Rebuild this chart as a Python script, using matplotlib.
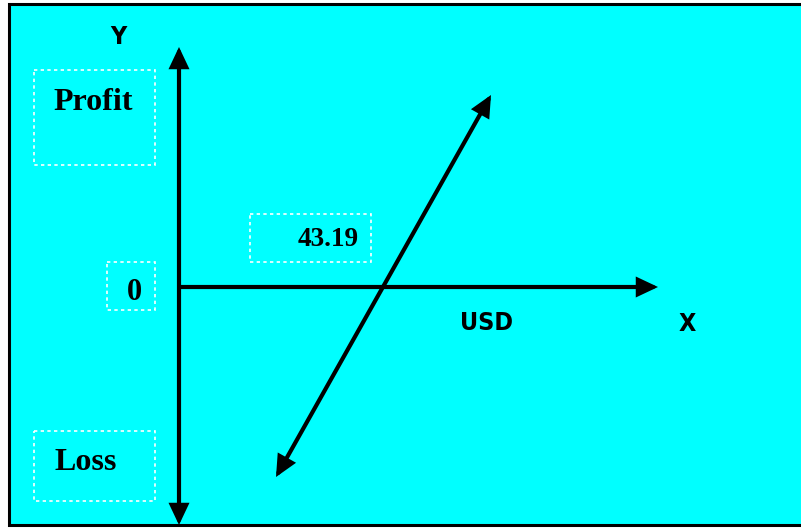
import matplotlib.pyplot as plt
from matplotlib.patches import Rectangle

# break-even diagram: profit / loss against USD
break_even = "43.19"
box_labels = ["Profit", "0", "Loss", break_even]
box_rects = [(34, 70, 121, 95), (107, 262, 48, 48), (34, 431, 121, 70), (250, 214, 121, 48)]
box_text_pos = [(93, 103), (134, 293), (86, 463), (328, 240)]
box_text_size = [23, 22, 23, 19.5]

axis_labels = ["Y", "X", "USD"]
axis_label_pos = [(118, 37), (687, 324), (487, 323)]

origin = (179, 287)
y_axis = [(179, 47), (179, 525)]
x_end = (658, 287)
profit_line = [(276, 477), (491, 95)]

fig = plt.figure(figsize=(8.01, 5.29), dpi=100)
ax = fig.add_axes([0, 0, 1, 1])
ax.set_xlim(0, 801)
ax.set_ylim(529, 0)
ax.axis('off')

# cyan panel with black frame
ax.add_patch(Rectangle((9, 4), 800, 521, facecolor='#00ffff', edgecolor='black', lw=2.2))

arrow = dict(lw=3, color='black', mutation_scale=20, shrinkA=0, shrinkB=0, joinstyle='miter')
head = ',head_length=0.55,head_width=0.26'
ax.annotate('', xy=y_axis[0], xytext=y_axis[1], arrowprops=dict(arrowstyle='<|-|>' + head, **arrow))
ax.annotate('', xy=x_end, xytext=origin, arrowprops=dict(arrowstyle='-|>' + head, **arrow))
ax.annotate('', xy=profit_line[1], xytext=profit_line[0], arrowprops=dict(arrowstyle='<|-|>' + head, **arrow))

for lab, r, pos, fs in zip(box_labels, box_rects, box_text_pos, box_text_size):
    ax.add_patch(Rectangle((r[0], r[1]), r[2], r[3], fill=False, edgecolor='white',
                           lw=1.2, linestyle=(0, (2, 2))))
    ax.text(pos[0], pos[1], lab, ha='center', va='center', fontsize=fs, fontweight='bold',
            family=['Liberation Serif', 'DejaVu Serif'])

for lab, pos in zip(axis_labels, axis_label_pos):
    ax.text(pos[0], pos[1], lab, ha='center', va='center', fontsize=18, fontweight='bold',
            fontstretch='condensed', family=['DejaVu Sans'])

fig.savefig('out.png', dpi=100)
